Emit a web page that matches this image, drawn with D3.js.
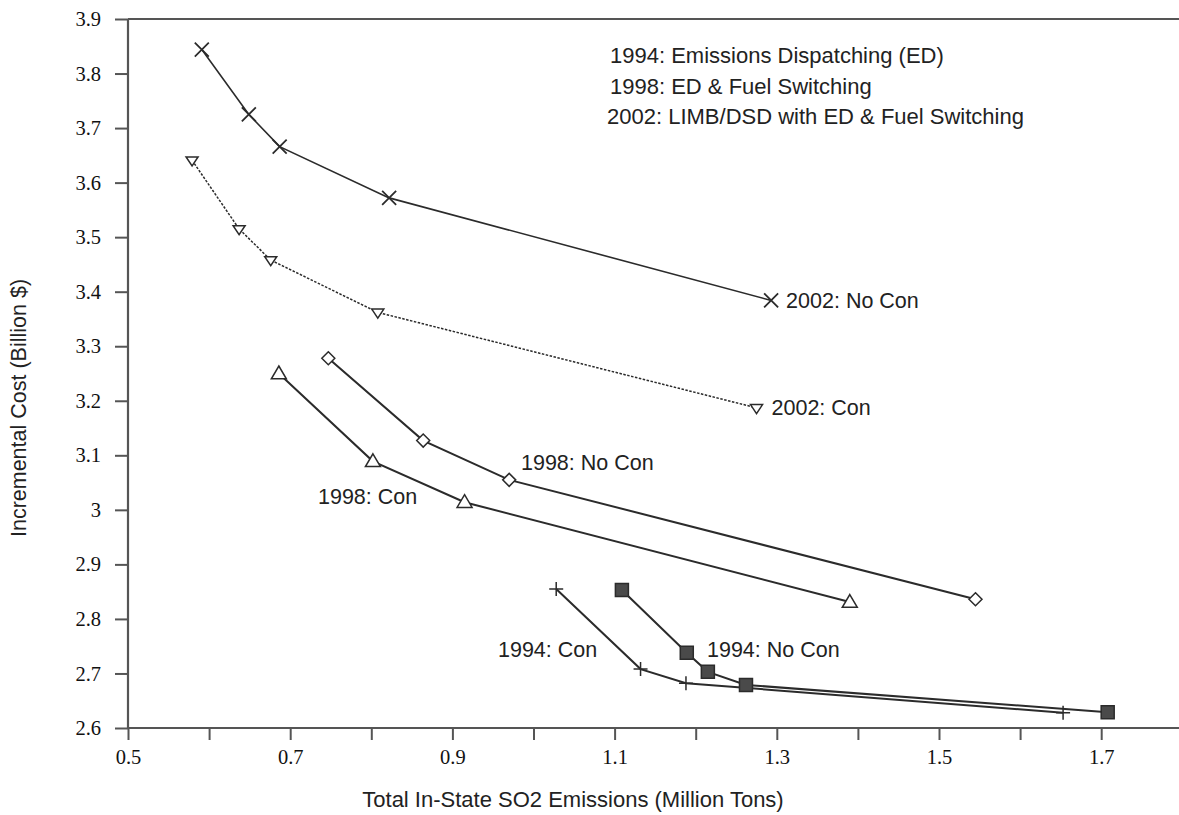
<!DOCTYPE html>
<html>
<head>
<meta charset="utf-8">
<script src="https://cdn.jsdelivr.net/npm/d3@7"></script>
<style>
  html, body { margin: 0; padding: 0; background: #fff; }
  svg { display: block; }
</style>
</head>
<body>
<svg id="chart" width="1179" height="815"></svg>
<script>
// ---- data ----
const xTicks = [0.5, 0.6, 0.7, 0.8, 0.9, 1.0, 1.1, 1.2, 1.3, 1.4, 1.5, 1.6, 1.7];
const xTickLabels = [0.5, 0.7, 0.9, 1.1, 1.3, 1.5, 1.7];
const yTicks = [2.6, 2.7, 2.8, 2.9, 3.0, 3.1, 3.2, 3.3, 3.4, 3.5, 3.6, 3.7, 3.8, 3.9];

const noCon2002 = [[0.591, 3.844], [0.649, 3.725], [0.687, 3.666], [0.822, 3.572], [1.293, 3.384]];
const con2002   = [[0.579, 3.641], [0.637, 3.515], [0.676, 3.458], [0.808, 3.362], [1.275, 3.187]];
const noCon1998 = [[0.747, 3.278], [0.864, 3.127], [0.970, 3.055], [1.545, 2.836]];
const con1998   = [[0.686, 3.250], [0.802, 3.089], [0.915, 3.014], [1.390, 2.831]];
const noCon1994 = [[1.109, 2.853], [1.189, 2.738], [1.215, 2.703], [1.262, 2.679], [1.708, 2.629]];
const con1994   = [[1.028, 2.855], [1.132, 2.708], [1.188, 2.682], [1.653, 2.628]];

const seriesLabels = ["2002: No Con", "2002: Con", "1998: No Con", "1998: Con", "1994: No Con", "1994: Con"];
const legendLines = [
  "1994: Emissions Dispatching (ED)",
  "1998: ED & Fuel Switching",
  "2002: LIMB/DSD with ED & Fuel Switching"
];
const xTitle = "Total In-State SO2 Emissions (Million Tons)";
const yTitle = "Incremental Cost (Billion $)";

// ---- layout ----
const svg = d3.select("#chart");
const plotLeft = 128, plotTop = 19, plotBottom = 728;
const x = d3.scaleLinear().domain([0.5, 1.8]).range([plotLeft, plotLeft + 1.3 * 811]);
const y = d3.scaleLinear().domain([2.6, 3.9]).range([plotBottom, plotTop]);

const ink = "#2b2b2b";
const axisInk = "#555";
const sans = "'Liberation Sans', Arial, Helvetica, sans-serif";
const serif = "'Liberation Serif', 'DejaVu Serif', serif";

// top frame line
svg.append("line").attr("x1", plotLeft).attr("x2", 1179).attr("y1", plotTop).attr("y2", plotTop)
  .attr("stroke", axisInk).attr("stroke-width", 2.2);

// x axis
const xAxis = d3.axisBottom(x).tickValues(xTicks).tickSize(12).tickPadding(9)
  .tickFormat(d => xTickLabels.some(v => Math.abs(v - d) < 1e-9) ? d3.format(".1f")(d) : "");
const gx = svg.append("g").attr("transform", `translate(0,${plotBottom})`).call(xAxis);
gx.select(".domain").remove();
gx.append("line").attr("x1", plotLeft).attr("x2", 1179).attr("y1", 0).attr("y2", 0)
  .attr("stroke", axisInk).attr("stroke-width", 2.2);
gx.selectAll(".tick line").attr("stroke", axisInk).attr("stroke-width", 2);
gx.selectAll(".tick text").attr("font-family", serif).attr("font-size", 20.5).attr("fill", "#111");

// y axis
const yAxis = d3.axisLeft(y).tickValues(yTicks).tickSize(13).tickPadding(14)
  .tickFormat(d3.format(".2~g"));
const gy = svg.append("g").attr("transform", `translate(${plotLeft},0)`).call(yAxis);
gy.select(".domain").remove();
gy.append("line").attr("x1", 0).attr("x2", 0).attr("y1", plotTop).attr("y2", plotBottom)
  .attr("stroke", axisInk).attr("stroke-width", 2.2);
gy.selectAll(".tick line").attr("stroke", axisInk).attr("stroke-width", 2);
gy.selectAll(".tick text").attr("font-family", serif).attr("font-size", 20.5).attr("fill", "#111");

// axis titles
svg.append("text").attr("x", 573).attr("y", 807).attr("text-anchor", "middle")
  .attr("font-family", sans).attr("font-size", 22).attr("fill", "#222").text(xTitle);
svg.append("text").attr("transform", "translate(26,408) rotate(-90)").attr("text-anchor", "middle")
  .attr("font-family", sans).attr("font-size", 21.5).attr("fill", "#222").text(yTitle);

// ---- symbols ----
const sym = {
  x: s => `M${-s},${-s}L${s},${s}M${-s},${s}L${s},${-s}`,
  plus: s => `M${-s},0H${s}M0,${-s}V${s}`,
  triDown: s => `M${-s},${-s * 0.55}L${s},${-s * 0.55}L0,${s * 0.95}Z`,
  triUp: s => `M0,${-s}L${s},${s * 0.7}L${-s},${s * 0.7}Z`,
  diamond: s => `M0,${-s}L${s},0L0,${s}L${-s},0Z`,
  square: s => `M${-s},${-s}H${s}V${s}H${-s}Z`
};

const seriesDefs = [
  { data: noCon2002, shape: "x", size: 7, dash: null, width: 1.6 },
  { data: con2002, shape: "triDown", size: 6, dash: "2.5,1.5", width: 1.5 },
  { data: noCon1998, shape: "diamond", size: 6.5, dash: null, width: 2 },
  { data: con1998, shape: "triUp", size: 7.5, dash: null, width: 2 },
  { data: noCon1994, shape: "square", size: 6.5, dash: null, width: 2 },
  { data: con1994, shape: "plus", size: 7, dash: null, width: 2 }
];

const line = d3.line().x(d => x(d[0])).y(d => y(d[1]));

seriesDefs.forEach(s => {
  svg.append("path").datum(s.data).attr("d", line)
    .attr("fill", "none").attr("stroke", ink).attr("stroke-width", s.width)
    .attr("stroke-dasharray", s.dash);
});
seriesDefs.forEach(s => {
  svg.append("g").selectAll("path").data(s.data).join("path")
    .attr("transform", d => `translate(${x(d[0])},${y(d[1])})`)
    .attr("d", sym[s.shape](s.size))
    .attr("fill", s.shape === "square" ? "#4a4a4a" : (s.shape === "x" || s.shape === "plus" ? "none" : "#fff"))
    .attr("stroke", ink).attr("stroke-width", s.shape === "x" ? 1.8 : 1.5);
});

// ---- series labels ----
const endLabels = [
  { i: 0, pt: noCon2002[noCon2002.length - 1] },
  { i: 1, pt: con2002[con2002.length - 1] }
];
endLabels.forEach(p => {
  svg.append("text").attr("x", x(p.pt[0]) + 15).attr("y", y(p.pt[1]) + 7.5)
    .attr("font-family", sans).attr("font-size", 21.5).attr("fill", "#222").text(seriesLabels[p.i]);
});
const freeLabels = [
  { i: 2, x: 521, y: 470 },
  { i: 3, x: 318, y: 504 },
  { i: 4, x: 707, y: 657 },
  { i: 5, x: 498, y: 657 }
];
freeLabels.forEach(p => {
  svg.append("text").attr("x", p.x).attr("y", p.y)
    .attr("font-family", sans).attr("font-size", 21.5).attr("fill", "#222").text(seriesLabels[p.i]);
});

// ---- legend text ----
const legendX = [610, 610, 607];
legendLines.forEach((t, i) => {
  svg.append("text").attr("x", legendX[i]).attr("y", 63 + i * 30.5)
    .attr("font-family", sans).attr("font-size", 22).attr("fill", "#222").text(t);
});
</script>
</body>
</html>
